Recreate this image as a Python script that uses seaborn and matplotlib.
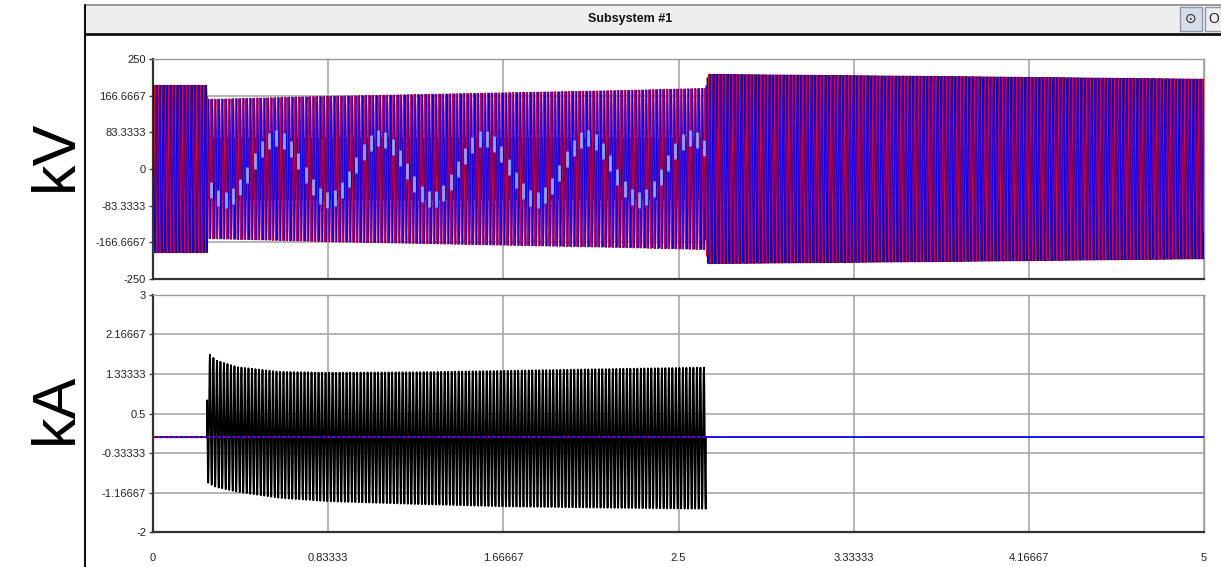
import numpy as np
import pandas as pd
import matplotlib
matplotlib.use('Agg')
import matplotlib.pyplot as plt
from matplotlib.patches import Rectangle
from matplotlib.lines import Line2D
import seaborn as sns

# --- values ---
F_HZ = 60.0
T_FAULT = 0.257     # fault applied (s)
T_CLEAR = 2.63      # fault cleared (s)

# healthy-phase voltage amplitude envelope (kV)
v_env_t = [0.0, 0.257, 0.26, 0.83, 1.67, 2.2, 2.63, 2.64, 3.8, 5.0]
v_env_amp = [190, 190, 158, 165, 173, 178, 183, 215, 210, 204]
v_fault_amp = 70          # faulted phase residual voltage (kV)

# fault current envelope (kA)
i_env_t = [0.257, 0.30, 0.40, 0.60, 0.83, 1.25, 1.67, 2.20, 2.63]
i_env_upper = [1.80, 1.62, 1.48, 1.38, 1.36, 1.37, 1.40, 1.44, 1.47]
i_env_lower = [-0.95, -1.05, -1.15, -1.28, -1.35, -1.41, -1.46, -1.49, -1.51]

v_ticks = [250, 166.6667, 83.3333, 0, -83.3333, -166.6667, -250]
v_ticklabels = ['250', '166.6667', '83.3333', '0', '-83.3333', '-166.6667', '-250']
i_ticks = [3, 2.16667, 1.33333, 0.5, -0.33333, -1.16667, -2]
i_ticklabels = ['3', '2.16667', '1.33333', '0.5', '-0.33333', '-1.16667', '-2']
t_ticks = [0, 0.83333, 1.66667, 2.5, 3.33333, 4.16667, 5]
t_ticklabels = ['0', '0.83333', '1.66667', '2.5', '3.33333', '4.16667', '5']

phase_names = ['A', 'B', 'C']          # drawing order
phase_colors = {'A': '#000040', 'B': '#ff0000', 'C': '#0000ff'}
phase_lw = {'A': 0.9, 'B': 1.0, 'C': 0.75}
phase_shift = {'A': 0.0, 'B': -2 * np.pi / 3, 'C': 2 * np.pi / 3}

# --- build traces ---
t = np.arange(0, 5.0, 1 / (F_HZ * 24))
amp = np.interp(t, v_env_t, v_env_amp)
in_fault = (t >= T_FAULT) & (t < T_CLEAR)

frames = []
for ph in phase_names:
    a = amp.copy()
    if ph == 'A':
        a[in_fault] = v_fault_amp
    frames.append(pd.DataFrame({'t': t, 'v': a * np.sin(2 * np.pi * F_HZ * t + phase_shift[ph]),
                                'phase': ph}))
volt = pd.concat(frames, ignore_index=True)

# faulted phase as seen by the scope (coarse samples -> short dashes)
td = np.arange(T_FAULT + 0.02, T_CLEAR, 0.0345)
dash = pd.DataFrame({'t': td, 'v': v_fault_amp * np.sin(2 * np.pi * F_HZ * td)})

ti = t[in_fault]
up = np.interp(ti, i_env_t, i_env_upper)
lo = np.interp(ti, i_env_t, i_env_lower)
ia = pd.DataFrame({'t': np.concatenate([t[t < T_FAULT], ti, t[t >= T_CLEAR]]),
                   'i': np.concatenate([np.zeros((t < T_FAULT).sum()),
                                        (up + lo) / 2 + (up - lo) / 2 * np.sin(2 * np.pi * F_HZ * ti),
                                        np.zeros((t >= T_CLEAR).sum())])})
ia = ia[ia['t'] <= T_CLEAR + 0.005]
ib = pd.DataFrame({'t': [0, 5.0], 'i': [0, 0]})
ic = pd.DataFrame({'t': [0, T_CLEAR], 'i': [0, 0]})

# --- figure ---
sns.set_theme(style='white')
plt.rcParams['font.family'] = ['Liberation Sans', 'DejaVu Sans']

W, H = 1221, 567
fig = plt.figure(figsize=(W / 100, H / 100), dpi=100)
fig.patch.set_facecolor('white')


def px_axes(x0, y0, x1, y1):
    return fig.add_axes([x0 / W, 1 - y1 / H, (x1 - x0) / W, (y1 - y0) / H])


ax1 = px_axes(153, 59, 1204, 279)
ax2 = px_axes(153, 295, 1204, 532)

for ph in phase_names:
    sub = volt[volt['phase'] == ph]
    sns.lineplot(data=sub, x='t', y='v', ax=ax1, color=phase_colors[ph], lw=phase_lw[ph],
                 estimator=None, sort=False, legend=False, zorder=3)
ax1.plot(dash['t'], dash['v'], ls='none', marker='|', ms=11, mew=2.0,
         color='#86a9ff', zorder=4)

sns.lineplot(data=ia, x='t', y='i', ax=ax2, color='black', lw=1.3,
             estimator=None, sort=False, legend=False, zorder=3)
sns.lineplot(data=ib, x='t', y='i', ax=ax2, color='#0000ff', lw=1.3,
             estimator=None, legend=False, zorder=4)
ax2.plot(ic['t'], ic['i'], color='#ff0000', lw=1.2, ls=(0, (1, 2)), zorder=5)

for ax, ticks, labels, lim in [(ax1, v_ticks, v_ticklabels, (-250, 250)),
                               (ax2, i_ticks, i_ticklabels, (-2, 3))]:
    ax.set_xlim(0, 5)
    ax.set_ylim(*lim)
    ax.set_yticks(ticks)
    ax.set_yticklabels(labels)
    ax.set_xticks(t_ticks)
    ax.grid(True, color='#a8a8a8', lw=1.2, zorder=0)
    ax.set_axisbelow(True)
    ax.set_xlabel('')
    ax.set_ylabel('')
    ax.tick_params(axis='y', left=True, length=3, width=1, color='#444444',
                   labelsize=8, labelcolor='#222222', pad=2)
    for s in ['left', 'bottom']:
        ax.spines[s].set_color('#333333')
        ax.spines[s].set_linewidth(1.6)
    for s in ['top', 'right']:
        ax.spines[s].set_color('#9a9a9a')
        ax.spines[s].set_linewidth(1.0)

ax1.tick_params(axis='x', bottom=False, labelbottom=False)
ax2.set_xticklabels(t_ticklabels)
ax2.tick_params(axis='x', bottom=False, labelsize=8, labelcolor='#222222', pad=9)

# scope frame: title bar and left border
fig.patches.append(Rectangle((85 / W, 1 - 33 / H), (W - 85) / W, 28 / H,
                             transform=fig.transFigure, facecolor='#eeeeee',
                             edgecolor='none', zorder=0))
fig.lines.append(Line2D([85 / W, 1], [1 - 5 / H, 1 - 5 / H], transform=fig.transFigure,
                        color='#8a8a8a', lw=1.2))
fig.lines.append(Line2D([85 / W, 1], [1 - 34 / H, 1 - 34 / H], transform=fig.transFigure,
                        color='#111111', lw=2.0))
fig.lines.append(Line2D([85 / W, 85 / W], [0, 1 - 5 / H], transform=fig.transFigure,
                        color='#111111', lw=1.5))
fig.text(630 / W, 1 - 19 / H, 'Subsystem #1', ha='center', va='center',
         fontsize=9, fontweight='bold', color='#111111')
fig.patches.append(Rectangle((1180 / W, 1 - 31 / H), 22 / W, 24 / H, transform=fig.transFigure,
                             facecolor='#d4dde8', edgecolor='#8a9aaa', lw=1))
fig.patches.append(Rectangle((1205 / W, 1 - 31 / H), 20 / W, 24 / H, transform=fig.transFigure,
                             facecolor='#eeeeee', edgecolor='#8a9aaa', lw=1))
fig.text(1191 / W, 1 - 19 / H, '\u2299', ha='center', va='center', fontsize=10,
         color='#222222', family=['DejaVu Sans'])
fig.text(1214 / W, 1 - 19 / H, 'O', ha='center', va='center', fontsize=10, color='#222222')

# big unit labels
fig.text(56 / W, 1 - 155 / H, 'kV', rotation=90, ha='center', va='center',
         fontsize=44, color='black')
fig.text(56 / W, 1 - 408 / H, 'kA', rotation=90, ha='center', va='center',
         fontsize=44, color='black')

fig.savefig('out.png', dpi=100)
